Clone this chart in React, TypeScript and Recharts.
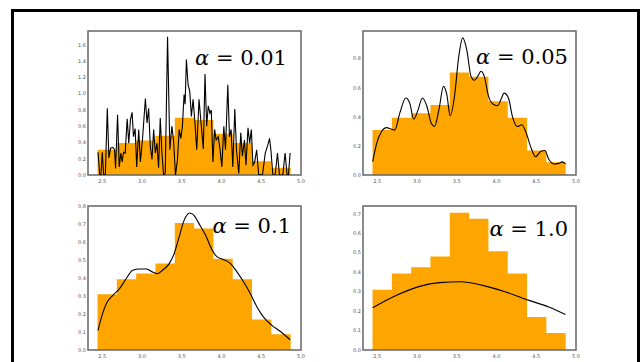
import { Area, ComposedChart, Line, ReferenceArea, XAxis, YAxis } from "recharts";

// histogram (same in all four panels)
const binEdges = [2.44, 2.683, 2.926, 3.169, 3.412, 3.655, 3.898, 4.141, 4.384, 4.627, 4.87];
const binHeights = [0.31, 0.393, 0.425, 0.481, 0.705, 0.675, 0.507, 0.393, 0.169, 0.088];

const xTicks = [2.5, 3.0, 3.5, 4.0, 4.5, 5.0];
const yTicks001 = [0, 0.2, 0.4, 0.6, 0.8, 1.0, 1.2, 1.4, 1.6];
const yTicks005 = [0, 0.2, 0.4, 0.6, 0.8];
const yTicks01 = [0, 0.1, 0.2, 0.3, 0.4, 0.5, 0.6, 0.7, 0.8];
const yTicks1 = [0, 0.1, 0.2, 0.3, 0.4, 0.5, 0.6, 0.7];

// kde curves, [x, density]
const kde001 = [
  [2.446, 0.28], [2.467, 0.01], [2.483, 0], [2.5, 0.28], [2.517, 0], [2.538, 0],
  [2.563, 0.82], [2.583, 0.21], [2.604, 0.33], [2.633, 0.34], [2.654, 0.31], [2.667, 0.08],
  [2.692, 0.74], [2.713, 0.1], [2.733, 0.27], [2.75, 0.16], [2.767, 0.28], [2.788, 0.27],
  [2.813, 0.69], [2.833, 0.39], [2.854, 0.68], [2.875, 0.77], [2.892, 0.47], [2.913, 0.57],
  [2.933, 0.1], [2.958, 0.56], [2.979, 0.16], [3.008, 0.47], [3.042, 0.94], [3.063, 0.64],
  [3.083, 0.82], [3.104, 0.35], [3.125, 0.19], [3.146, 0.56], [3.167, 0.27], [3.188, 0.39],
  [3.208, 0.09], [3.229, 0.7], [3.25, 0.27], [3.271, 0], [3.292, 0.02], [3.321, 1.7],
  [3.35, 0.31], [3.375, 0.6], [3.396, 0.43], [3.421, 0], [3.446, 0.19], [3.467, 0.56],
  [3.488, 0.45], [3.508, 0.6], [3.529, 0.99], [3.542, 0.87], [3.558, 1.42], [3.579, 1.11],
  [3.6, 1.03], [3.621, 0.72], [3.642, 0.93], [3.663, 0.68], [3.688, 0.31], [3.717, 0.93],
  [3.746, 0.6], [3.771, 0.32], [3.792, 1.24], [3.813, 0.6], [3.833, 0.85], [3.854, 0.76],
  [3.871, 0.8], [3.892, 0.16], [3.913, 0.56], [3.933, 0.43], [3.958, 0.47], [3.979, 0.33],
  [4.004, 0.1], [4.029, 0.6], [4.05, 0.31], [4.079, 1.11], [4.1, 0.47], [4.121, 0.56],
  [4.142, 0.1], [4.167, 0.81], [4.188, 0.31], [4.217, 0.02], [4.242, 0.52], [4.263, 0.23],
  [4.288, 0.43], [4.308, 0.12], [4.333, 0.58], [4.354, 0.39], [4.375, 0.56], [4.396, 0.12],
  [4.417, 0.16], [4.442, 0.31], [4.467, 0.01], [4.488, 0], [4.517, 0.01], [4.55, 0.27],
  [4.583, 0.37], [4.604, 0.45], [4.621, 0.31], [4.646, 0], [4.675, 0], [4.704, 0.27],
  [4.729, 0], [4.771, 0], [4.8, 0.27], [4.825, 0], [4.842, 0], [4.863, 0.27],
];

const kde005 = [
  [2.442, 0.092], [2.492, 0.218], [2.554, 0.299], [2.617, 0.326], [2.679, 0.315], [2.721, 0.31],
  [2.783, 0.425], [2.858, 0.529], [2.908, 0.494], [2.958, 0.384], [3.013, 0.448], [3.067, 0.529],
  [3.125, 0.471], [3.179, 0.356], [3.221, 0.333], [3.275, 0.448], [3.333, 0.609], [3.375, 0.552],
  [3.417, 0.407], [3.471, 0.54], [3.525, 0.816], [3.575, 0.943], [3.625, 0.862], [3.679, 0.678],
  [3.721, 0.651], [3.763, 0.678], [3.804, 0.713], [3.846, 0.678], [3.9, 0.54], [3.95, 0.49],
  [4.013, 0.476], [4.054, 0.517], [4.096, 0.563], [4.15, 0.529], [4.2, 0.402], [4.263, 0.333],
  [4.317, 0.345], [4.367, 0.299], [4.429, 0.195], [4.492, 0.126], [4.554, 0.161], [4.608, 0.168],
  [4.658, 0.108], [4.721, 0.076], [4.783, 0.08], [4.825, 0.09], [4.867, 0.076],
];

const kde01 = [
  [2.446, 0.109], [2.49, 0.183], [2.55, 0.257], [2.633, 0.304], [2.717, 0.341], [2.8, 0.396],
  [2.883, 0.443], [2.967, 0.45], [3.058, 0.45], [3.133, 0.433], [3.196, 0.424], [3.258, 0.443],
  [3.342, 0.48], [3.404, 0.535], [3.467, 0.628], [3.529, 0.72], [3.6, 0.761], [3.654, 0.748],
  [3.717, 0.702], [3.8, 0.637], [3.883, 0.554], [3.946, 0.517], [4.029, 0.502], [4.113, 0.48],
  [4.196, 0.433], [4.279, 0.378], [4.363, 0.313], [4.446, 0.239], [4.529, 0.183], [4.633, 0.137],
  [4.738, 0.104], [4.863, 0.057],
];

const kde1 = [
  [2.442, 0.217], [2.742, 0.281], [3.033, 0.327], [3.283, 0.346], [3.554, 0.351],
  [3.825, 0.332], [4.117, 0.298], [4.408, 0.255], [4.658, 0.221], [4.867, 0.182],
];

const histData = binEdges.map((x, i) => ({ x, h: binHeights[Math.min(i, binHeights.length - 1)] }));

const toRows = (pts: number[][]) => pts.map(([x, k]) => ({ x, k }));

const X_MIN = 2.32;
const X_MAX = 5.0;
const PW = 213;
const PH = 144;
const frame = "#666";
const tickStyle = { fontSize: 5, fill: "#555", fontFamily: "DejaVu Sans" };
const serif = "DejaVu Serif";

type PanelProps = {
  left: number;
  top: number;
  curve: number[][];
  yMax: number;
  yTicks: number[];
  smooth: boolean;
};

function Panel({ left, top, curve, yMax, yTicks, smooth }: PanelProps) {
  return (
    <div style={{ position: "absolute", left: left - 30, top: top - 5 }}>
      <ComposedChart
        width={PW + 35}
        height={PH + 20}
        margin={{ top: 5, right: 5, left: 0, bottom: 0 }}
      >
        <XAxis
          dataKey="x"
          type="number"
          domain={[X_MIN, X_MAX]}
          ticks={xTicks}
          interval={0}
          allowDataOverflow
          tickFormatter={(v: number) => v.toFixed(1)}
          tick={tickStyle}
          tickLine={false}
          tickSize={0}
          tickMargin={4}
          height={15}
          axisLine={false}
        />
        <YAxis
          type="number"
          domain={[0, yMax]}
          ticks={yTicks}
          interval={0}
          allowDataOverflow
          tickFormatter={(v: number) => v.toFixed(1)}
          tick={tickStyle}
          tickLine={false}
          tickSize={0}
          tickMargin={2}
          width={30}
          axisLine={false}
        />
        <Area
          data={histData}
          dataKey="h"
          type="stepAfter"
          fill="#FFA500"
          fillOpacity={1}
          stroke="none"
          isAnimationActive={false}
          dot={false}
          activeDot={false}
        />
        <Line
          data={toRows(curve)}
          dataKey="k"
          type={smooth ? "monotone" : "linear"}
          stroke="#000"
          strokeWidth={1.1}
          dot={false}
          activeDot={false}
          isAnimationActive={false}
        />
        <ReferenceArea
          x1={X_MIN}
          x2={X_MAX}
          y1={0}
          y2={yMax}
          fill="none"
          fillOpacity={0}
          stroke={frame}
          strokeWidth={1.5}
          ifOverflow="visible"
        />
      </ComposedChart>
    </div>
  );
}

const labels = [
  { x: 287, y: 65, v: "0.01" },
  { x: 568, y: 64, v: "0.05" },
  { x: 291, y: 233, v: "0.1" },
  { x: 568, y: 236, v: "1.0" },
];

export default function App() {
  return (
    <div
      style={{
        position: "absolute",
        left: 0,
        top: 0,
        width: 640,
        height: 362,
        background: "#fff",
        overflow: "hidden",
      }}
    >
      <div
        style={{
          position: "absolute",
          left: 11,
          top: 9,
          width: 623,
          height: 400,
          border: "3px solid #000",
        }}
      />
      <Panel left={88} top={31} curve={kde001} yMax={1.77} yTicks={yTicks001} smooth={false} />
      <Panel left={363} top={31} curve={kde005} yMax={0.99} yTicks={yTicks005} smooth />
      <Panel left={88} top={206} curve={kde01} yMax={0.8} yTicks={yTicks01} smooth />
      <Panel left={363} top={206} curve={kde1} yMax={0.74} yTicks={yTicks1} smooth />
      <svg
        width={640}
        height={362}
        style={{ position: "absolute", left: 0, top: 0, pointerEvents: "none" }}
      >
        {labels.map((l) => (
          <text
            key={l.v}
            x={l.x}
            y={l.y}
            textAnchor="end"
            fontSize={21}
            fontFamily={serif}
            fill="#000"
          >
            <tspan fontStyle="italic">α</tspan>
            <tspan>{" = " + l.v}</tspan>
          </text>
        ))}
      </svg>
    </div>
  );
}
